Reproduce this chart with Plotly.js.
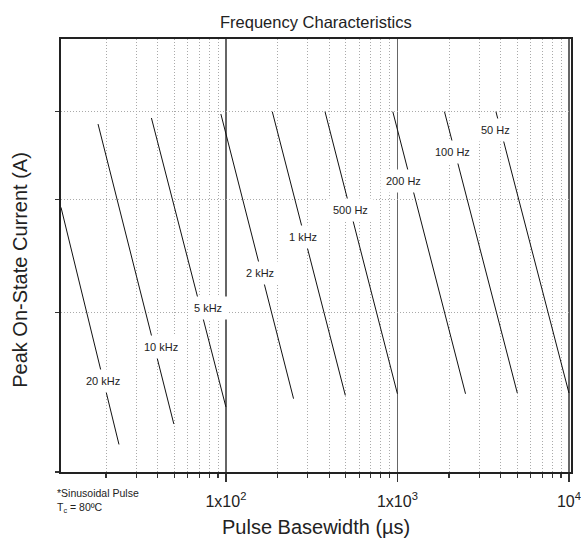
<!DOCTYPE html>
<html>
<head>
<meta charset="utf-8">
<script src="https://cdn.plot.ly/plotly-3.0.1.min.js"></script>
<style>html,body{margin:0;padding:0;background:#fff;}#chart{width:581px;height:542px;}</style>
</head>
<body>
<div id="chart"></div>
<script>
// Frequency curves: start (upper-left) and end (lower-right) points
const freqLabels = ['20 kHz', '10 kHz', '5 kHz', '2 kHz', '1 kHz', '500 Hz', '200 Hz', '100 Hz', '50 Hz'];
const xStart = [10.93, 17.97, 36.8, 93.5, 186.4, 378.4, 940, 1881, 3753];
const yStart = [78.4, 96.9, 98.4, 99.4, 100, 100, 100, 100, 100];
const xEnd = [23.8, 49.7, 100, 248, 497, 1000, 2495, 5000, 10000];
const yEnd = [42.9, 45.2, 47.2, 48.2, 48.6, 48.8, 48.8, 48.9, 48.9];

// Label positions (paper fractions)
const labelX = [0.0829, 0.1955, 0.2876, 0.3896, 0.4751, 0.5680, 0.6712, 0.7680, 0.8510];
const labelY = [0.2092, 0.2878, 0.3778, 0.4596, 0.5418, 0.6042, 0.6711, 0.7381, 0.7905];

// Axis ticks
const xMajorTicks = [100, 1000, 10000];
const xMajorText = ['1x10<sup>2</sup>', '1x10<sup>3</sup>', '10<sup>4</sup>'];
const xMinorTicks = [20, 30, 40, 50, 60, 70, 80, 90, 200, 300, 400, 500, 600, 700, 800, 900,
                     2000, 3000, 4000, 5000, 6000, 7000, 8000, 9000];
const yTicks = [40, 60, 80, 100];

const FONT = 'Liberation Sans, Arial, Helvetica, sans-serif';

const traces = freqLabels.map((name, i) => ({
  type: 'scatter', mode: 'lines', name: name,
  x: [xStart[i], xEnd[i]], y: [yStart[i], yEnd[i]],
  line: {color: '#111', width: 1}, showlegend: false, hoverinfo: 'skip'
}));

const annotations = freqLabels.map((t, i) => ({
  text: t, xref: 'paper', yref: 'paper', x: labelX[i], y: labelY[i],
  xanchor: 'center', yanchor: 'middle', showarrow: false,
  font: {family: FONT, size: 11, color: '#222'},
  bgcolor: '#ffffff', borderpad: 5
}));

annotations.push({
  text: 'Frequency Characteristics', xref: 'paper', yref: 'paper', x: 0.5, y: 1.04,
  xanchor: 'center', yanchor: 'middle', showarrow: false,
  font: {family: FONT, size: 16.5, color: '#222'}
});
annotations.push({
  text: 'Pulse Basewidth (µs)', xref: 'paper', yref: 'paper', x: 0.5, y: -0.126,
  xanchor: 'center', yanchor: 'middle', showarrow: false,
  font: {family: FONT, size: 20, color: '#222'}
});
annotations.push({
  text: 'Peak On-State Current (A)', xref: 'paper', yref: 'paper', x: -0.0804, y: 0.467,
  xanchor: 'center', yanchor: 'middle', showarrow: false, textangle: -90,
  font: {family: FONT, size: 20, color: '#222'}
});
annotations.push({
  text: '*Sinusoidal Pulse<br>T<sub>c</sub> = 80ºC', xref: 'paper', yref: 'paper',
  x: -0.0118, y: -0.0674, xanchor: 'left', yanchor: 'middle', align: 'left', showarrow: false,
  font: {family: FONT, size: 10.5, color: '#222'}
});

const layout = {
  width: 581, height: 542,
  margin: {l: 61, r: 10, t: 39, b: 70},
  paper_bgcolor: '#fff', plot_bgcolor: '#fff',
  showlegend: false,
  font: {family: FONT, color: '#222'},
  xaxis: {
    type: 'log', range: [Math.log10(10.93), 4.012],
    tickmode: 'array', tickvals: xMajorTicks, ticktext: xMajorText,
    ticks: 'outside', ticklen: 8, tickwidth: 1.5, tickcolor: '#333',
    tickfont: {family: FONT, size: 16, color: '#222'}, ticklabelstandoff: 6,
    showgrid: true, gridcolor: '#666', gridwidth: 1.3,
    showline: true, linecolor: '#222', linewidth: 2, mirror: true,
    zeroline: false,
    minor: {tickmode: 'array', tickvals: xMinorTicks, ticks: 'outside', ticklen: 4,
            tickwidth: 1.2, tickcolor: '#333', showgrid: true, gridcolor: '#aaa',
            griddash: '1px,2px', gridwidth: 1}
  },
  yaxis: {
    type: 'log', range: [Math.log10(40), Math.log10(120.3)],
    tickmode: 'array', tickvals: yTicks, showticklabels: false,
    ticks: 'outside', ticklen: 4, tickwidth: 1.5, tickcolor: '#333',
    showgrid: true, gridcolor: '#aaa', griddash: '1px,2px', gridwidth: 1,
    showline: true, linecolor: '#222', linewidth: 2, mirror: true,
    zeroline: false
  },
  annotations: annotations
};

Plotly.newPlot('chart', traces, layout, {staticPlot: true, displayModeBar: false});
</script>
</body>
</html>
